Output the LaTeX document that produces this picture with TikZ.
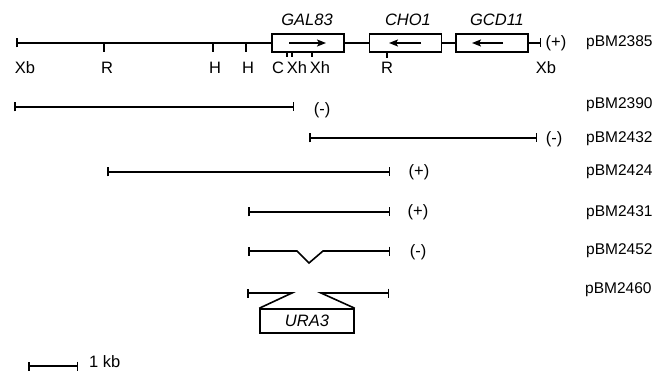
\documentclass[tikz,border=0pt]{standalone}
\usepackage{fontspec}
\setmainfont{Liberation Sans}
\usetikzlibrary{arrows.meta}
\begin{document}
\begin{tikzpicture}[x=1pt,y=-1pt,
  seg/.style={line width=1.6pt},
  barseg/.style={line width=1.6pt,{Bar[width=9pt,line width=1.5pt]}-{Bar[width=9pt,line width=1.5pt]}},
  rbar/.style={line width=1.6pt,-{Bar[width=9pt,line width=1.5pt]}},
  lbar/.style={line width=1.6pt,{Bar[width=9pt,line width=1.5pt]}-},
  gene/.style={draw,line width=1.5pt,minimum width=72pt,minimum height=18pt,inner sep=0pt},
  dirarrow/.style={line width=1.5pt,-{Stealth[length=9pt,width=7pt,inset=2pt]}},
  tick/.style={line width=1.3pt},
  txt/.style={font=\fontsize{16.5}{18}\selectfont,inner sep=0pt},
  gname/.style={font=\fontsize{16.5}{18}\selectfont\itshape,inner sep=0pt},
  pname/.style={font=\fontsize{15.5}{18}\selectfont,inner sep=0pt,anchor=west}]
\useasboundingbox (0,0) rectangle (655,371);
% ---- main map pBM2385
\node[gene] (gal) at (308,43) {};
\node[gene] (cho) at (405.5,43) {};
\node[gene] (gcd) at (492,43) {};
\coordinate (m0) at (16,43);
\coordinate (m1) at (541,43);
\draw[lbar] (m0) -- (gal.west);
\draw[seg] (gal.east) -- (cho.west);
\draw[seg] (cho.east) -- (gcd.west);
\draw[rbar] (gcd.east) -- (m1);
\coordinate (ga1) at (289,43); \coordinate (ga2) at (326,43);
\coordinate (ca1) at (421,43); \coordinate (ca2) at (389,43);
\coordinate (da1) at (503,43); \coordinate (da2) at (472,43);
\draw[dirarrow] (ga1) -- (ga2);
\draw[dirarrow] (ca1) -- (ca2);
\draw[dirarrow] (da1) -- (da2);
\node[gname] (lgal) at (307,20) {GAL83};
\node[gname] (lcho) at (408,20) {CHO1};
\node[gname] (lgcd) at (497,20) {GCD11};
% ticks
\coordinate (tR1) at (104,43); \coordinate (tR1b) at (104,52);
\coordinate (tH1) at (213,43); \coordinate (tH1b) at (213,52);
\coordinate (tH2) at (246,43); \coordinate (tH2b) at (246,52);
\coordinate (tC) at (287,52); \coordinate (tCb) at (287,57);
\coordinate (tX1) at (292,52); \coordinate (tX1b) at (292,57);
\coordinate (tX2) at (312,52); \coordinate (tX2b) at (312,57);
\coordinate (tR2) at (387,52); \coordinate (tR2b) at (387,58);
\draw[tick] (tR1) -- (tR1b);
\draw[tick] (tH1) -- (tH1b);
\draw[tick] (tH2) -- (tH2b);
\draw[tick] (tC) -- (tCb);
\draw[tick] (tX1) -- (tX1b);
\draw[tick] (tX2) -- (tX2b);
\draw[tick] (tR2) -- (tR2b);
\node[txt] (sXb1) at (25,68) {Xb};
\node[txt] (sR1) at (107,68) {R};
\node[txt] (sH1) at (215,68) {H};
\node[txt] (sH2) at (248,68) {H};
\node[txt] (sC) at (278,68) {C};
\node[txt] (sXh1) at (297,68) {Xh};
\node[txt] (sXh2) at (320,68) {Xh};
\node[txt] (sR2) at (387,68) {R};
\node[txt] (sXb2) at (546,68) {Xb};
\node[txt] (s2385) at (556,43) {(+)};
\node[pname] (p2385) at (586,43) {pBM2385};
% ---- pBM2390
\coordinate (a0) at (14,107); \coordinate (a1) at (294,107);
\draw[barseg] (a0) -- (a1);
\node[txt] (s2390) at (322,110) {(-)};
\node[pname] (p2390) at (586,105) {pBM2390};
% ---- pBM2432
\coordinate (b0) at (309,138); \coordinate (b1) at (537,138);
\draw[barseg] (b0) -- (b1);
\node[txt] (s2432) at (554,139) {(-)};
\node[pname] (p2432) at (586,139) {pBM2432};
% ---- pBM2424
\coordinate (c0) at (107,172); \coordinate (c1) at (390,172);
\draw[barseg] (c0) -- (c1);
\node[txt] (s2424) at (419,172) {(+)};
\node[pname] (p2424) at (586,172) {pBM2424};
% ---- pBM2431
\coordinate (d0) at (248,212); \coordinate (d1) at (390,212);
\draw[barseg] (d0) -- (d1);
\node[txt] (s2431) at (418,212) {(+)};
\node[pname] (p2431) at (586,213) {pBM2431};
% ---- pBM2452
\coordinate (e0) at (248,251); \coordinate (e1) at (297,251);
\coordinate (ev) at (309,263); \coordinate (e2) at (323,251);
\coordinate (e3) at (390,251);
\draw[barseg,line join=miter] (e0) -- (e1) -- (ev) -- (e2) -- (e3);
\node[txt] (s2452) at (418,252) {(-)};
\node[pname] (p2452) at (586,251) {pBM2452};
% ---- pBM2460
\node[draw,line width=1.5pt,minimum width=94pt,minimum height=24pt,inner sep=0pt,font=\fontsize{16.5}{18}\selectfont\itshape] (ura) at (307,321) {URA3};
\coordinate (f0) at (247,293); \coordinate (f1) at (292,293);
\coordinate (f2) at (321,293); \coordinate (f3) at (389,293);
\draw[lbar,line join=miter] (f0) -- (f1) -- (ura.north west);
\draw[rbar,line join=miter] (ura.north east) -- (f2) -- (f3);
\node[pname] (p2460) at (585,290) {pBM2460};
% ---- scale bar
\coordinate (k0) at (28,366); \coordinate (k1) at (78,366);
\draw[barseg,line width=1.3pt] (k0) -- (k1);
\node[txt,anchor=west] (kb) at (89,362) {1 kb};
\end{tikzpicture}
\end{document}
